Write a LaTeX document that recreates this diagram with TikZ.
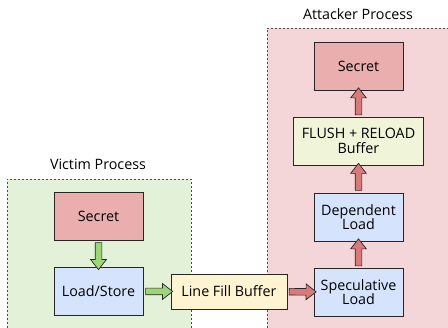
\documentclass[tikz,border=0pt]{standalone}
\usepackage{fontspec}
\setmainfont{Open Sans}
\usetikzlibrary{shapes.arrows}
\definecolor{victimbg}{RGB}{227,241,216}
\definecolor{attackbg}{RGB}{244,214,216}
\definecolor{secretfill}{RGB}{233,174,173}
\definecolor{loadfill}{RGB}{213,228,252}
\definecolor{lfbfill}{RGB}{255,244,210}
\definecolor{flushfill}{RGB}{240,245,218}
\definecolor{greenarrow}{RGB}{156,214,120}
\definecolor{redarrow}{RGB}{217,122,122}
\begin{document}
\begin{tikzpicture}[x=1pt,y=-1pt,
  box/.style={draw=black!85, line width=0.8pt, align=center, minimum width=89pt, minimum height=48pt, inner sep=2pt},
  region/.style={draw=black!70, line width=0.7pt, dash pattern=on 2pt off 2pt},
  fat/.style={single arrow, draw=black!85, line width=0.7pt, inner xsep=0pt, inner ysep=3pt, minimum height=27pt, single arrow head extend=4.5pt, single arrow tip angle=76, sloped, allow upside down, midway}]
\useasboundingbox (0,0) rectangle (448,328);
\clip (0,0) rectangle (448,328);
\fontsize{14.3}{16.5}\selectfont
% victim side
\begin{scope}
\fill[victimbg] (7,179) rectangle (191,340);
\draw[region] (7,340) -- (7,179) -- (191,179) -- (191,340);
\node (victim) at (98,164) {Victim Process};
\node[box, fill=secretfill] (vsecret) at (98.5,216.5) {Secret};
\node[box, fill=loadfill] (loadstore) at (98.5,291.5) {Load/Store};
\end{scope}
% attacker side
\begin{scope}
\fill[attackbg] (267,28) rectangle (460,340);
\draw[region] (267,340) -- (267,28) -- (460,28);
\node (attacker) at (358,14) {Attacker Process};
\node[box, fill=secretfill] (asecret) at (358.5,66) {Secret};
\node[box, fill=flushfill, minimum width=130pt] (flush) at (358.5,141) {FLUSH + RELOAD\\[-2pt]Buffer};
\node[box, fill=loadfill] (dependent) at (358.5,217) {Dependent\\[-2pt]Load};
\node[box, fill=loadfill] (speculative) at (358.5,292) {Speculative\\[-2pt]Load};
\end{scope}
\node[box, fill=lfbfill, minimum width=116pt, minimum height=35pt] (lfb) at (229,291.5) {Line Fill Buffer};
% block arrows
\path (vsecret) -- node[fat, fill=greenarrow] {} (loadstore);
\path (loadstore) -- node[fat, fill=greenarrow] {} (lfb);
\path (lfb) -- node[fat, fill=redarrow] {} (speculative);
\path (speculative) -- node[fat, fill=redarrow] {} (dependent);
\path (dependent) -- node[fat, fill=redarrow] {} (flush);
\path (flush) -- node[fat, fill=redarrow] {} (asecret);
\end{tikzpicture}
\end{document}
